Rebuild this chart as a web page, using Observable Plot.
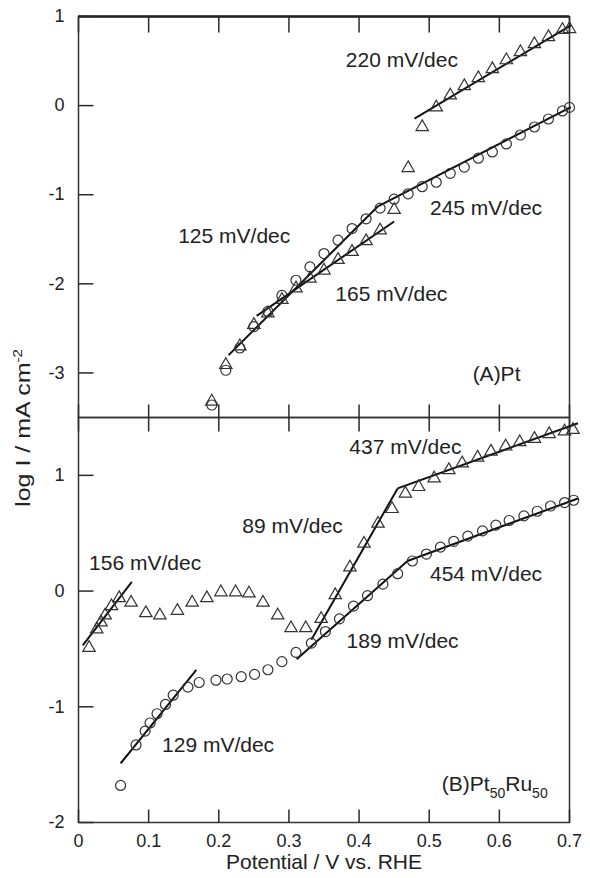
<!DOCTYPE html>
<html>
<head>
<meta charset="utf-8">
<script src="https://cdn.jsdelivr.net/npm/d3@7"></script>
<script src="https://cdn.jsdelivr.net/npm/@observablehq/plot@0.6"></script>
<style>
  html, body { margin: 0; padding: 0; background: #fff; }
  #wrap { position: relative; width: 590px; height: 878px; font-family: "Liberation Sans", Arial, sans-serif; color: #222; }
  #panelA { position: absolute; left: 0; top: 0; }
  #panelB { position: absolute; left: 0; top: 414px; }
  #ylab { position: absolute; left: 23px; top: 428px; transform: translate(-50%, -50%) rotate(-90deg) scaleX(1.25); white-space: nowrap; font-size: 20px; }
  #ylab sup { font-size: 12px; vertical-align: 8px; line-height: 0; }
</style>
</head>
<body>
<div id="wrap">
  <div id="panelA"></div>
  <div id="panelB"></div>
  <div id="ylab">log I / mA cm<sup>-2</sup></div>
</div>
<script>
// ---------- tick values ----------
const xTicks = [0, 0.1, 0.2, 0.3, 0.4, 0.5, 0.6, 0.7];
const yTicksA = [1, 0, -1, -2, -3];
const yTicksB = [1, 0, -1, -2];
const xLabel = "Potential / V vs. RHE";

// ---------- Panel (A) Pt ----------
const ptPotential = [0.19, 0.21, 0.23, 0.25, 0.27, 0.29, 0.31, 0.33, 0.35, 0.37, 0.39, 0.41, 0.43, 0.45,
                     0.47, 0.49, 0.51, 0.53, 0.55, 0.57, 0.59, 0.61, 0.63, 0.65, 0.67, 0.69, 0.70];
const ptCircleLogI = [-3.36, -2.97, -2.72, -2.48, -2.31, -2.13, -1.96, -1.81, -1.66, -1.51, -1.38, -1.27, -1.15, -1.05,
                      -0.99, -0.91, -0.86, -0.76, -0.69, -0.59, -0.52, -0.43, -0.33, -0.24, -0.15, -0.06, -0.02];
const ptTriangleLogI = [-3.32, -2.91, -2.70, -2.46, -2.33, -2.18, -2.05, -1.94, -1.85, -1.73, -1.64, -1.52, -1.40, -1.17,
                        -0.70, -0.24, -0.02, 0.115, 0.22, 0.31, 0.41, 0.51, 0.60, 0.69, 0.77, 0.85, 0.86];
// Tafel fit segments (start/end in data units)
const ptFitX1 = [0.479, 0.427, 0.214, 0.254];
const ptFitY1 = [-0.146, -1.13, -2.80, -2.36];
const ptFitX2 = [0.702, 0.702, 0.427, 0.450];
const ptFitY2 = [0.90, -0.016, -1.13, -1.30];
const ptLabelText = ["220 mV/dec", "245 mV/dec", "125 mV/dec", "165 mV/dec", "(A)Pt"];
const ptLabelX = [0.461, 0.581, 0.222, 0.446, 0.596];
const ptLabelY = [0.51, -1.15, -1.465, -2.12, -3.01];

// ---------- Panel (B) Pt50Ru50 ----------
const ruCirclePotential = [0.060, 0.082, 0.095, 0.102, 0.112, 0.124, 0.135, 0.156, 0.172, 0.196, 0.212, 0.232,
                           0.251, 0.270, 0.290, 0.310, 0.332, 0.352, 0.372, 0.392, 0.412, 0.434, 0.455, 0.476,
                           0.496, 0.516, 0.535, 0.555, 0.576, 0.595, 0.614, 0.635, 0.654, 0.673, 0.693, 0.706];
const ruCircleLogI = [-1.68, -1.33, -1.21, -1.14, -1.06, -0.98, -0.90, -0.83, -0.79, -0.77, -0.76, -0.74,
                      -0.72, -0.68, -0.61, -0.53, -0.45, -0.35, -0.24, -0.13, -0.04, 0.06, 0.15, 0.26,
                      0.32, 0.38, 0.43, 0.475, 0.52, 0.57, 0.61, 0.65, 0.69, 0.735, 0.765, 0.785];
const ruTrianglePotential = [0.015, 0.026, 0.032, 0.038, 0.047, 0.058, 0.075, 0.096, 0.116, 0.141, 0.162, 0.183,
                             0.203, 0.224, 0.243, 0.263, 0.284, 0.303, 0.324, 0.346, 0.366, 0.387, 0.407, 0.427,
                             0.447, 0.466, 0.485, 0.507, 0.528, 0.547, 0.569, 0.588, 0.609, 0.629, 0.650, 0.671,
                             0.693, 0.705];
const ruTriangleLogI = [-0.49, -0.33, -0.27, -0.21, -0.13, -0.06, -0.10, -0.19, -0.21, -0.17, -0.10, -0.06,
                        -0.01, -0.01, -0.02, -0.10, -0.21, -0.32, -0.32, -0.24, -0.035, 0.205, 0.41, 0.583,
                        0.71, 0.843, 0.90, 0.974, 1.046, 1.104, 1.154, 1.206, 1.25, 1.287, 1.316, 1.357,
                        1.38, 1.394];
const ruFitX1 = [0.455, 0.332, 0.469, 0.311, 0.006, 0.060];
const ruFitY1 = [0.887, -0.42, 0.26, -0.59, -0.47, -1.49];
const ruFitX2 = [0.712, 0.455, 0.712, 0.469, 0.076, 0.168];
const ruFitY2 = [1.45, 0.887, 0.80, 0.26, 0.08, -0.68];
const ruLabelText = ["437 mV/dec", "89 mV/dec", "156 mV/dec", "454 mV/dec", "189 mV/dec", "129 mV/dec"];
const ruLabelX = [0.466, 0.305, 0.095, 0.581, 0.462, 0.199];
const ruLabelY = [1.24, 0.56, 0.243, 0.148, -0.437, -1.33];
const ruPanelLabel = "(B)Pt50Ru50";
const ruPanelLabelX = [0.518];
const ruPanelLabelY = [-1.67];

// ---------- helpers ----------
const pts = (xs, ys) => xs.map((x, i) => ({x, y: ys[i]}));
const segs = (x1, y1, x2, y2) => x1.map((_, i) => ({x1: x1[i], y1: y1[i], x2: x2[i], y2: y2[i]}));
const labs = (t, xs, ys) => t.map((text, i) => ({text, x: xs[i], y: ys[i]}));
const fmt = d => String(d);

const FONT = "'Liberation Sans', Arial, sans-serif";
const INK = "#222";
const MARK = "#333";
const TICKC = "#2a2a2a";
const ANN = 21;   // annotation font size
const TICKF = 18; // tick label font size

const W = 590, ML = 78, MR = 21;
const xDomain = [0, 0.7];
const plotW = W - ML - MR;

// inward ticks: short segments whose pixel length is converted to data units
function tickSegs(yTicks, yDomain, plotH, lenLeft, lenBottom, lenTop) {
  const dx = lenLeft * (xDomain[1] - xDomain[0]) / plotW;
  const ky = (yDomain[1] - yDomain[0]) / plotH;
  return [
    ...yTicks.map(v => ({x1: xDomain[0], x2: xDomain[0] + dx, y1: v, y2: v})),
    ...xTicks.map(v => ({x1: v, x2: v, y1: yDomain[0], y2: yDomain[0] + lenBottom * ky})),
    ...xTicks.map(v => ({x1: v, x2: v, y1: yDomain[1], y2: yDomain[1] - lenTop * ky}))
  ];
}

const style = {fontFamily: FONT, color: INK, background: "transparent", overflow: "visible"};

function dataMarks(circles, triangles, fits, labels) {
  return [
    Plot.link(fits, {x1: "x1", y1: "y1", x2: "x2", y2: "y2", stroke: "#111", strokeWidth: 2}),
    Plot.dot(circles, {x: "x", y: "y", r: 5, stroke: MARK, strokeWidth: 1.2, fill: "none"}),
    Plot.dot(triangles, {x: "x", y: "y", symbol: "triangle", r: 4.6, stroke: MARK, strokeWidth: 1.2, fill: "none"}),
    Plot.text(labels, {x: "x", y: "y", text: "text", fontSize: ANN, fill: INK})
  ];
}

// Panel A
const hA = 420, mtA = 16, mbA = 3, yDomainA = [-3.5, 1];
const ticksA = tickSegs(yTicksA, yDomainA, hA - mtA - mbA, 15, 13, 16);
const plotA = Plot.plot({
  width: W, height: hA, marginLeft: ML, marginRight: MR, marginTop: mtA, marginBottom: mbA,
  style,
  x: {domain: xDomain, axis: null},
  y: {domain: yDomainA, axis: null},
  marks: [
    Plot.frame({stroke: MARK, strokeWidth: 1.5}),
    Plot.ruleY([d3.max(yTicksA)], {stroke: INK, strokeWidth: 2.5}),
    Plot.axisY(yTicksA, {anchor: "left", tickSize: 0, tickPadding: 14, tickFormat: fmt, fontSize: TICKF, label: null}),
    Plot.link(ticksA, {x1: "x1", y1: "y1", x2: "x2", y2: "y2", stroke: TICKC, strokeWidth: 1.5}),
    ...dataMarks(pts(ptPotential, ptCircleLogI), pts(ptPotential, ptTriangleLogI),
                 segs(ptFitX1, ptFitY1, ptFitX2, ptFitY2), labs(ptLabelText, ptLabelX, ptLabelY))
  ]
});
document.getElementById("panelA").appendChild(plotA);

// Panel B
const hB = 464, mtB = 3, mbB = 56, yDomainB = [-2, 1.5];
const ticksB = tickSegs(yTicksB, yDomainB, hB - mtB - mbB, 15, 13, 14);
const plotB = Plot.plot({
  width: W, height: hB, marginLeft: ML, marginRight: MR, marginTop: mtB, marginBottom: mbB,
  style,
  x: {domain: xDomain},
  y: {domain: yDomainB},
  marks: [
    Plot.frame({stroke: MARK, strokeWidth: 1.5}),
    Plot.axisY(yTicksB, {anchor: "left", tickSize: 0, tickPadding: 14, tickFormat: fmt, fontSize: TICKF, label: null}),
    Plot.axisX(xTicks, {anchor: "bottom", tickSize: 0, tickPadding: 12, tickFormat: fmt, fontSize: TICKF, label: null}),
    Plot.link(ticksB, {x1: "x1", y1: "y1", x2: "x2", y2: "y2", stroke: TICKC, strokeWidth: 1.5}),
    Plot.text([xLabel], {frameAnchor: "bottom", dy: 46, fontSize: ANN, fill: INK}),
    ...dataMarks(pts(ruCirclePotential, ruCircleLogI), pts(ruTrianglePotential, ruTriangleLogI),
                 segs(ruFitX1, ruFitY1, ruFitX2, ruFitY2), labs(ruLabelText, ruLabelX, ruLabelY)),
    Plot.text([ruPanelLabel], {x: () => ruPanelLabelX[0], y: () => ruPanelLabelY[0], text: d => d, textAnchor: "start", fontSize: ANN, fill: INK})
  ]
});
document.getElementById("panelB").appendChild(plotB);

// subscripts in "(B)Pt50Ru50"
plotB.querySelectorAll("text").forEach(t => {
  if (t.textContent === ruPanelLabel) {
    const ns = "http://www.w3.org/2000/svg";
    while (t.firstChild) t.removeChild(t.firstChild);
    const parts = [["(B)Pt", 0, null], ["50", 7, 14], ["Ru", -7, null], ["50", 7, 14]];
    parts.forEach(([s, dy, fs]) => {
      const sp = document.createElementNS(ns, "tspan");
      sp.textContent = s;
      if (dy) sp.setAttribute("dy", dy);
      if (fs) sp.setAttribute("font-size", fs);
      t.appendChild(sp);
    });
  }
});
</script>
</body>
</html>
